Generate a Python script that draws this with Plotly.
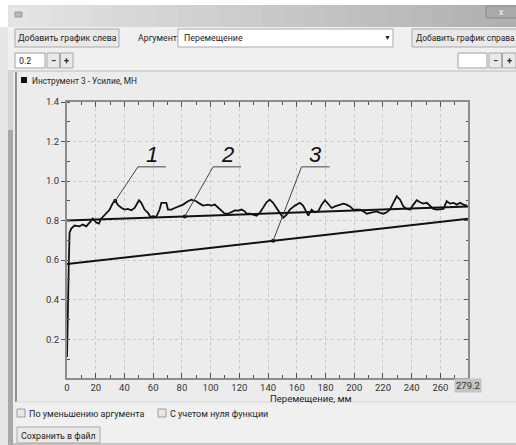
import plotly.graph_objects as go

# ---------------- data ----------------
disp = [0, 0.3, 0.6, 1.0, 1.3, 1.8, 3.0, 5.2, 8.7, 11, 13.4, 16.9, 18, 20.4, 22.2, 23.8, 27.3, 29.6, 32, 33.6,
        35.4, 37.8, 40.1, 42.4, 44.8, 47.1, 50.1, 51.7, 54, 56.4, 58, 59.8, 62.2, 64.5, 65.7, 69.2, 70.3, 72.7,
        75, 78.5, 80.8, 84.2, 86.6, 87.7, 90, 92.4, 94.7, 98.2, 100.5, 102.9, 105.2, 107.5, 109.8, 112.2, 114.5,
        116.8, 119.1, 121.5, 123.8, 125, 127.3, 129.6, 132, 134.2, 136.5, 138.9, 141.2, 143.5, 145.9, 148.2,
        150.5, 152.9, 155.2, 158.7, 162.1, 164.4, 166.8, 168, 170.3, 172.6, 174.9, 177.3, 179.6, 181.9, 184.3,
        186.6, 190.1, 192.4, 194.7, 197, 199.4, 201.7, 204, 206.4, 208.7, 211, 213.3, 215.6, 218, 220.3, 222.6,
        224.9, 227.2, 229.6, 231.9, 234.2, 236.5, 238.9, 241.2, 243.5, 245.8, 248.1, 250.5, 252.8, 255.1, 257.5,
        259.8, 262.1, 264.4, 266.7, 269.1, 271.4, 273.7, 276, 278.4]
force = [0.11, 0.25, 0.45, 0.52, 0.60, 0.74, 0.76, 0.775, 0.771, 0.78, 0.771, 0.80, 0.81, 0.79, 0.785, 0.81, 0.84,
         0.855, 0.89, 0.90, 0.88, 0.865, 0.856, 0.859, 0.852, 0.864, 0.903, 0.89, 0.856, 0.839, 0.819, 0.822,
         0.819, 0.856, 0.89, 0.89, 0.856, 0.856, 0.864, 0.872, 0.881, 0.898, 0.906, 0.903, 0.898, 0.886, 0.876,
         0.881, 0.876, 0.881, 0.864, 0.847, 0.835, 0.835, 0.842, 0.852, 0.851, 0.856, 0.847, 0.835, 0.835, 0.830,
         0.825, 0.839, 0.864, 0.893, 0.906, 0.89, 0.864, 0.839, 0.814, 0.83, 0.856, 0.876, 0.89, 0.876, 0.842,
         0.825, 0.856, 0.842, 0.847, 0.881, 0.903, 0.886, 0.864, 0.872, 0.881, 0.886, 0.881, 0.872, 0.856, 0.856,
         0.856, 0.847, 0.835, 0.839, 0.842, 0.847, 0.839, 0.835, 0.842, 0.856, 0.89, 0.923, 0.906, 0.872, 0.859,
         0.856, 0.881, 0.903, 0.893, 0.886, 0.89, 0.876, 0.859, 0.856, 0.856, 0.859, 0.898, 0.886, 0.89, 0.881,
         0.89, 0.881, 0.876]

line2_x = [0, 279.2]
line2_y = [0.800, 0.872]
line3_x = [0, 279.2]
line3_y = [0.580, 0.810]

label_names = ["1", "2", "3"]
label_pt_x = [33.6, 82.0, 143.5]
label_pt_y = [0.900, 0.821, 0.698]

x_max = 279.2
x_tick_step = 20
y_tick_vals = [0.2, 0.4, 0.6, 0.8, 1.0, 1.2, 1.4]

x_title = "Перемещение, мм"
legend_text = "Инструмент 3 - Усилие, МН"

# ---------------- geometry helpers ----------------
FW, FH = 516, 445
L, R, T, B = 67, 48, 102, 67
PW, PH = FW - L - R, FH - T - B


def fx(p):
    return (p - L) / PW


def fy(p):
    return 1 - (p - T) / PH


UI = "Roboto, Noto Sans, sans-serif"
shapes = []
annots = []


def rect(x0, y0, x1, y1, fill, line=None, lw=0, layer="below"):
    shapes.append(dict(type="rect", xref="paper", yref="paper",
                       x0=fx(x0), x1=fx(x1), y0=fy(y1), y1=fy(y0),
                       fillcolor=fill, line=dict(color=line or fill, width=lw), layer=layer))


def hline(x0, x1, y, color, w=1, layer="below"):
    shapes.append(dict(type="line", xref="paper", yref="paper", x0=fx(x0), x1=fx(x1),
                       y0=fy(y), y1=fy(y), line=dict(color=color, width=w), layer=layer))


def vline(x, y0, y1, color, w=1, layer="below"):
    shapes.append(dict(type="line", xref="paper", yref="paper", x0=fx(x), x1=fx(x),
                       y0=fy(y0), y1=fy(y1), line=dict(color=color, width=w), layer=layer))


def txt(x, y, s, size=9, color="#1e1e1e", anchor="left", family=UI):
    annots.append(dict(xref="paper", yref="paper", x=fx(x), y=fy(y), text=s, showarrow=False,
                       xanchor=anchor, yanchor="middle", font=dict(size=size, color=color, family=family)))


# ---------------- window chrome ----------------
rect(0, 0, FW, FH, "#ececec")
# title bar gradient
n = 24
for i in range(n):
    x0 = 8 + (FW - 8) * i / n
    x1 = 8 + (FW - 8) * (i + 1) / n + 0.5
    g = int(228 - 52 * i / (n - 1))
    rect(x0, 5, x1, 27, "rgb(%d,%d,%d)" % (g, g, g))
rect(0, 0, FW, 5, "#ffffff")
rect(0, 0, 8, 27, "#ffffff")
rect(15, 12, 22, 17, "#b8b8b8", "#9a9a9a", 1)
# close button
rect(486, 6, 517, 18, "#a9a9a9", "#8a8a8a", 1)
txt(501, 11.5, "x", size=9, color="#f4f4f4", anchor="center")
# toolbar area
rect(8, 27, FW, 72, "#f0f0f0")
hline(8, FW, 71, "#b8b8b8")
# left strip + scrollbar
rect(0, 27, 8, FH, "#e6e6e6")
rect(8, 72, 13, FH, "#a8a8a8")
rect(8, 72, 13, 130, "#d2d2d2")
vline(16, 72, 402, "#555555", 1.2)
# bottom area
rect(16, 402, FW, FH, "#f0f0f0")
hline(16, FW, 402, "#d8d8d8")
hline(13, FW, 444, "#9a9a9a")


def button(x0, y0, x1, y1, label, anchor="center", size=8.8):
    rect(x0, y0, x1, y1, "#e9e9e9", "#a9a9a9", 1)
    if anchor == "center":
        txt((x0 + x1) / 2, (y0 + y1) / 2 + 0.5, label, anchor="center", size=size)
    else:
        txt(x0 + 2, (y0 + y1) / 2 + 0.5, label, anchor="left", size=size)


button(15, 29, 119, 47, "Добавить график слева")
txt(136, 38.5, "Аргумент", size=8.8)
rect(178, 29, 393, 47, "#ffffff", "#a9a9a9", 1)
txt(182, 38.5, "Перемещение", size=8.8)
txt(387, 38.5, "▼", size=7, anchor="center")
button(412, 29, 520, 47, "Добавить график справа", anchor="left", size=8.4)

rect(15, 53, 45, 68, "#ffffff", "#a0a0a0", 1)
txt(17, 60.5, "0.2", size=8.8)
button(47, 53, 59.5, 68, "<b>−</b>", size=9)
button(60.5, 53, 73, 68, "<b>+</b>", size=9)
rect(458, 53, 487, 68, "#ffffff", "#a0a0a0", 1)
button(489, 53, 501.5, 68, "<b>−</b>", size=9)
button(502.5, 53, 516, 68, "<b>+</b>", size=9)

# legend
rect(21, 77, 27, 83, "#111111", "#111111", 0, layer="above")
txt(30, 80.5, legend_text, size=8.3)

# bottom controls
rect(17, 409, 25, 417, "#e8e8e8", "#9a9a9a", 1)
txt(27, 413.5, "По уменьшению аргумента", size=9)
rect(158, 409, 166, 417, "#e8e8e8", "#9a9a9a", 1)
txt(168, 413.5, "С учетом нуля функции", size=9)
button(17, 427, 100, 443, "Сохранить в файл")

# axis title & end label
txt((L + L + PW) / 2, 398.5, x_title, size=9.5)
annots.append(dict(xref="x", yref="paper", x=x_max, y=fy(385.5), text=f"{x_max}", showarrow=False,
                   xanchor="center", yanchor="middle", bgcolor="#c4c4c4", borderpad=1,
                   font=dict(size=9.5, color="#333333", family=UI)))

# ---------------- number labels with leaders ----------------
elbow_dx = [15.8, 19.7, 19.8]     # data units from point to elbow
elbow_y = 1.072
tail_len = 19.5
for name, px_, py_, dx in zip(label_names, label_pt_x, label_pt_y, elbow_dx):
    ex = px_ + dx
    shapes.append(dict(type="path", xref="x", yref="y",
                       path=f"M {px_},{py_} L {ex},{elbow_y} L {ex + tail_len},{elbow_y}",
                       line=dict(color="#444444", width=1), layer="above"))
    annots.append(dict(xref="x", yref="y", x=ex + 10, y=1.132, text=f"<i>{name}</i>", showarrow=False,
                       xanchor="center", yanchor="middle",
                       font=dict(size=22, color="#111111", family="Liberation Sans")))

# ---------------- traces ----------------
fig = go.Figure()
fig.add_trace(go.Scatter(x=line3_x, y=line3_y, mode="lines", line=dict(color="#111111", width=2),
                         showlegend=False, hoverinfo="skip"))
fig.add_trace(go.Scatter(x=line2_x, y=line2_y, mode="lines", line=dict(color="#111111", width=2),
                         showlegend=False, hoverinfo="skip"))
fig.add_trace(go.Scatter(x=disp, y=force, mode="lines", line=dict(color="#111111", width=1.8),
                         showlegend=False))
fig.add_trace(go.Scatter(x=label_pt_x, y=label_pt_y, mode="markers",
                         marker=dict(color="#111111", size=4), showlegend=False, hoverinfo="skip"))
fig.add_trace(go.Scatter(x=[None], y=[None], yaxis="y2", showlegend=False, hoverinfo="skip"))

axis_line = "#8c8c8c"
fig.update_layout(
    width=FW, height=FH,
    margin=dict(l=L, r=R, t=T, b=B, pad=0),
    paper_bgcolor="#ffffff", plot_bgcolor="#ffffff",
    shapes=shapes, annotations=annots,
    xaxis=dict(range=[0, x_max], tickmode="linear", tick0=0, dtick=x_tick_step,
               ticks="inside", ticklen=5, tickwidth=1, tickcolor="#555555",
               minor=dict(dtick=x_tick_step / 2, ticks="inside", ticklen=3, tickcolor="#555555",
                          showgrid=False),
               showgrid=True, gridcolor="#c8c8c8", griddash="dot", gridwidth=1,
               showline=True, linecolor=axis_line, linewidth=2, mirror="ticks",
               zeroline=False, tickfont=dict(size=9.5, color="#333333", family=UI)),
    yaxis=dict(range=[0.004, 1.4], tickmode="array", tickvals=y_tick_vals, tickformat=".1f",
               ticks="outside", ticklen=4, tickwidth=1, tickcolor="#555555",
               minor=dict(dtick=0.1, tick0=0, ticks="inside", ticklen=3, tickcolor="#555555",
                          showgrid=False),
               showgrid=True, gridcolor="#c8c8c8", griddash="dot", gridwidth=1,
               showline=True, linecolor=axis_line, linewidth=2, mirror=True,
               zeroline=False, tickfont=dict(size=9.5, color="#333333", family=UI)),
    yaxis2=dict(overlaying="y", side="right", matches="y", showticklabels=False,
                tickmode="array", tickvals=y_tick_vals, ticks="inside", ticklen=4, tickcolor="#555555",
                minor=dict(dtick=0.1, tick0=0, ticks="inside", ticklen=2, tickcolor="#555555"),
                showgrid=False, showline=False, zeroline=False),
)

fig.write_html("out.html", config={"displayModeBar": False},
               post_script="document.body.style.margin='0';document.body.style.overflow='hidden';")
